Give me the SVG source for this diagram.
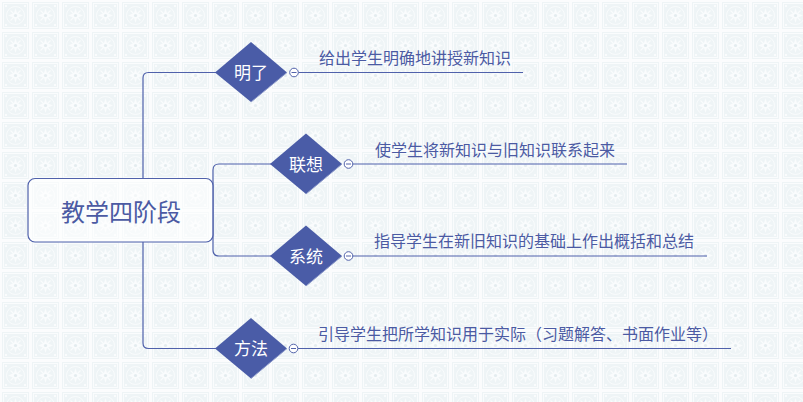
<svg xmlns="http://www.w3.org/2000/svg" width="803" height="402" viewBox="0 0 803 402">
  <defs>
    <pattern id="tile" x="0" y="0" width="30" height="30" patternUnits="userSpaceOnUse">
      <rect x="0" y="0" width="30" height="30" fill="#fbfcfd"/>
      <rect x="2" y="2" width="27" height="27" fill="#eef4f6"/>
      <rect x="3.5" y="3.5" width="24" height="24" fill="none" stroke="#fafcfd" stroke-width="1"/>
      <circle cx="15.5" cy="15.5" r="9" fill="none" stroke="#fafcfd" stroke-width="1"/>
      <path d="M15.5 8 L17 13 L23 15.5 L17 18 L15.5 23 L14 18 L8 15.5 L14 13 Z" fill="#fafcfd"/>
      <path d="M10.5 10.5 L20.5 20.5 M20.5 10.5 L10.5 20.5" stroke="#fafcfd" stroke-width="1.2"/>
      <circle cx="15.5" cy="15.5" r="1.6" fill="#e4edf0"/>
      <rect x="5" y="5" width="2" height="2" fill="#fafcfd"/>
      <rect x="24" y="5" width="2" height="2" fill="#fafcfd"/>
      <rect x="5" y="24" width="2" height="2" fill="#fafcfd"/>
      <rect x="24" y="24" width="2" height="2" fill="#fafcfd"/>
    </pattern>
    <style>
      .conn { fill: none; stroke: #4f61ab; stroke-width: 1.2; }
      .uline { fill: none; stroke: #4f61ab; stroke-width: 1.2; }
      .dia { fill: #4a5ca7; }
      .dia-edge { fill: none; stroke: #8a97c9; stroke-width: 1; }
      .dtext { font-family: "Noto Sans CJK SC", "Microsoft YaHei", sans-serif; font-size: 17px; fill: #ffffff; text-anchor: middle; }
      .label { font-family: "Noto Sans CJK SC", "Microsoft YaHei", sans-serif; font-size: 16px; fill: #4b5aa3; }
      .fold { fill: #ffffff; stroke: #5263ab; stroke-width: 1; }
      .minus { stroke: #5263ab; stroke-width: 1; }
      .root { fill: #ffffff; fill-opacity: 0.55; stroke: #4f61ab; stroke-width: 1.2; }
      .rtext { font-family: "Noto Sans CJK SC", "Microsoft YaHei", sans-serif; font-size: 24px; fill: #4b5aa3; text-anchor: middle; }
    </style>
  </defs>
  <rect x="0" y="0" width="803" height="402" fill="url(#tile)"/>

  <g id="connectors">
    <path class="conn" d="M143,178 V78 Q143,72.5 148.5,72.5 H216"/>
    <path class="conn" d="M143,242 V343 Q143,348.5 148.5,348.5 H216"/>
    <path class="conn" d="M271,164 H219 Q213,164 213,170 V250 Q213,256 219,256 H271"/>
  </g>

  <g id="root">
    <rect class="root" x="28" y="178.5" width="185" height="63.5" rx="7"/>
    <text class="rtext" x="121" y="221">教学四阶段</text>
  </g>

  <g id="node-mingliao">
    <polygon class="dia" points="251,42 287,72.5 251,102 215,72.5"/>
    <path class="dia-edge" d="M287,72.5 L251,102"/>
    <text class="dtext" x="251" y="79">明了</text>
    <circle class="fold" cx="294" cy="72.5" r="4.3"/>
    <line class="minus" x1="291.5" y1="72.5" x2="296.5" y2="72.5"/>
    <line class="uline" x1="298.5" y1="72.5" x2="523" y2="72.5"/>
    <text class="label" x="319" y="63.5">给出学生明确地讲授新知识</text>
  </g>

  <g id="node-lianxiang">
    <polygon class="dia" points="306,133.5 342,164 306,194 270,164"/>
    <path class="dia-edge" d="M342,164 L306,194"/>
    <text class="dtext" x="306" y="170.5">联想</text>
    <circle class="fold" cx="348.5" cy="164" r="4.3"/>
    <line class="minus" x1="346" y1="164" x2="351" y2="164"/>
    <line class="uline" x1="353" y1="164" x2="627" y2="164"/>
    <text class="label" x="375" y="155.5">使学生将新知识与旧知识联系起来</text>
  </g>

  <g id="node-xitong">
    <polygon class="dia" points="306,225.5 342,256 306,286 270,256"/>
    <path class="dia-edge" d="M342,256 L306,286"/>
    <text class="dtext" x="306" y="262.5">系统</text>
    <circle class="fold" cx="348.5" cy="256" r="4.3"/>
    <line class="minus" x1="346" y1="256" x2="351" y2="256"/>
    <line class="uline" x1="353" y1="256" x2="707" y2="256"/>
    <text class="label" x="374" y="246.5">指导学生在新旧知识的基础上作出概括和总结</text>
  </g>

  <g id="node-fangfa">
    <polygon class="dia" points="251,318 287,348.5 251,378.5 215,348.5"/>
    <path class="dia-edge" d="M287,348.5 L251,378.5"/>
    <text class="dtext" x="251" y="355">方法</text>
    <circle class="fold" cx="293.5" cy="348.5" r="4.3"/>
    <line class="minus" x1="291" y1="348.5" x2="296" y2="348.5"/>
    <line class="uline" x1="298" y1="348.5" x2="731" y2="348.5"/>
    <text class="label" x="318" y="340">引导学生把所学知识用于实际（习题解答、书面作业等）</text>
  </g>
</svg>
